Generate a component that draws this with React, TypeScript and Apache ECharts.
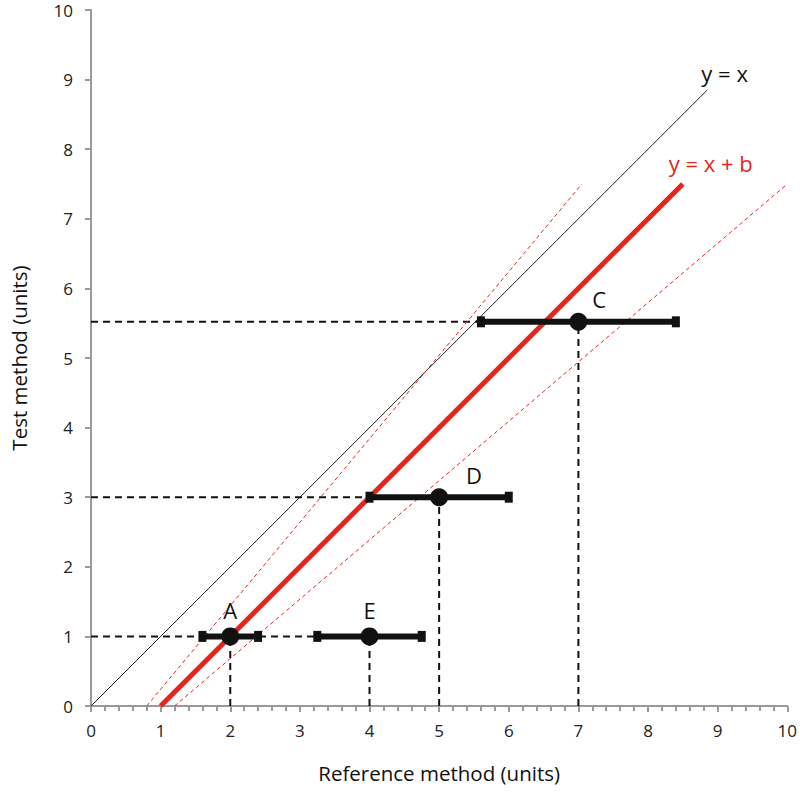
import React, { useEffect, useRef } from "react";
import * as echarts from "echarts";

// Data
const pointNames = ["A", "E", "D", "C"];
const pointX = [2, 4, 5, 7];
const pointY = [1, 1, 3, 5.52];
const barLow = [1.6, 3.25, 4, 5.6];
const barHigh = [2.4, 4.75, 6, 8.4];
const labelX = [2, 4, 5.5, 7.3];
const labelY = [1.38, 1.38, 3.32, 5.85];

const hGuideY = [1, 3, 5.52];
const hGuideEnd = [3.25, 4, 5.6];

const identityLine = [[0, 0], [8.85, 8.85]];
const biasLine = [[1, 0], [8.5, 7.5]];
const upperLimit = [[0.8, 0], [7.05, 7.5]];
const lowerLimit = [[1.2, 0], [10, 7.5]];

const lineLabels = ["y = x", "y = x + b"];
const lineLabelPos = [[9.1, 9.1], [8.9, 7.8]];

const FONT = "'Open Sans', sans-serif";
const RED = "#e8241f";
const INK = "#111111";

export default function App() {
  const ref = useRef<HTMLDivElement>(null);
  useEffect(() => {
    if (!ref.current) return;
    const chart = echarts.init(ref.current, null, { renderer: "svg" });
    const series: any[] = [];
    const guideStyle = { color: "#111", width: 2, type: [7, 5] };
    hGuideY.forEach((y, i) => {
      series.push({
        type: "line", data: [[0, y], [hGuideEnd[i], y]], symbol: "none",
        lineStyle: guideStyle, z: 2,
      });
    });
    pointX.forEach((x, i) => {
      series.push({
        type: "line", data: [[x, 0], [x, pointY[i]]], symbol: "none",
        lineStyle: guideStyle, z: 2,
      });
    });
    series.push({ type: "line", data: identityLine, symbol: "none", lineStyle: { color: "#222", width: 1 }, z: 3 });
    series.push({ type: "line", data: upperLimit, symbol: "none", lineStyle: { color: RED, width: 1, type: [4, 3] }, z: 3 });
    series.push({ type: "line", data: lowerLimit, symbol: "none", lineStyle: { color: RED, width: 1, type: [4, 3] }, z: 3 });
    series.push({ type: "line", data: biasLine, symbol: "none", lineStyle: { color: RED, width: 5 }, z: 4 });
    pointX.forEach((x, i) => {
      series.push({
        type: "line", data: [[barLow[i], pointY[i]], [barHigh[i], pointY[i]]],
        symbol: "rect", symbolSize: [8, 11], showSymbol: true,
        itemStyle: { color: INK },
        lineStyle: { color: INK, width: 6 }, z: 5,
      });
    });
    series.push({
      type: "scatter", data: pointX.map((x, i) => [x, pointY[i]]),
      symbolSize: 18, itemStyle: { color: INK, opacity: 1 }, z: 6,
    });
    series.push({
      type: "scatter", data: labelX.map((x, i) => ({ value: [x, labelY[i]], name: pointNames[i] })),
      symbolSize: 0, itemStyle: { color: INK }, z: 7,
      label: {
        show: true, position: "inside", formatter: "{b}", fontFamily: FONT, fontSize: 22,
        color: INK, textBorderWidth: 0, opacity: 1,
      },
    });
    series.push({
      type: "scatter",
      data: lineLabelPos.map((p, i) => ({
        value: p, name: lineLabels[i],
        label: { color: i === 0 ? INK : RED },
      })),
      symbolSize: 0, itemStyle: { color: INK }, z: 7,
      label: {
        show: true, position: "inside", formatter: "{b}", fontFamily: FONT, fontSize: 22,
        textBorderWidth: 0, opacity: 1,
      },
    });

    const axisCommon = {
      type: "value", min: 0, max: 10, interval: 1,
      splitLine: { show: false },
      axisLine: { show: true, lineStyle: { color: "#9a9a9a", width: 2 } },
      axisTick: { show: true, length: 6, lineStyle: { color: "#9a9a9a", width: 2 } },
      axisLabel: { fontFamily: FONT, fontSize: 17, color: "#222", lineHeight: 16 },
      nameLocation: "middle",
      nameTextStyle: { fontFamily: FONT, fontSize: 20.5, color: INK },
    };
    chart.setOption({
      animation: false,
      grid: { left: 90, right: 10, top: 10, bottom: 88 },
      xAxis: {
        ...axisCommon,
        name: "Reference method (units)", nameGap: 56,
        minorTick: { show: true, splitNumber: 5, length: 5, lineStyle: { color: "#9a9a9a", width: 2 } },
        axisLabel: { ...axisCommon.axisLabel, margin: 16 },
      },
      yAxis: {
        ...axisCommon,
        name: "Test method (units)", nameGap: 62,
        axisLabel: { ...axisCommon.axisLabel, margin: 18 },
      },
      series,
    });
    return () => chart.dispose();
  }, []);
  return <div ref={ref} style={{ width: 800, height: 794, position: "absolute", left: 0, top: 0 }} />;
}
